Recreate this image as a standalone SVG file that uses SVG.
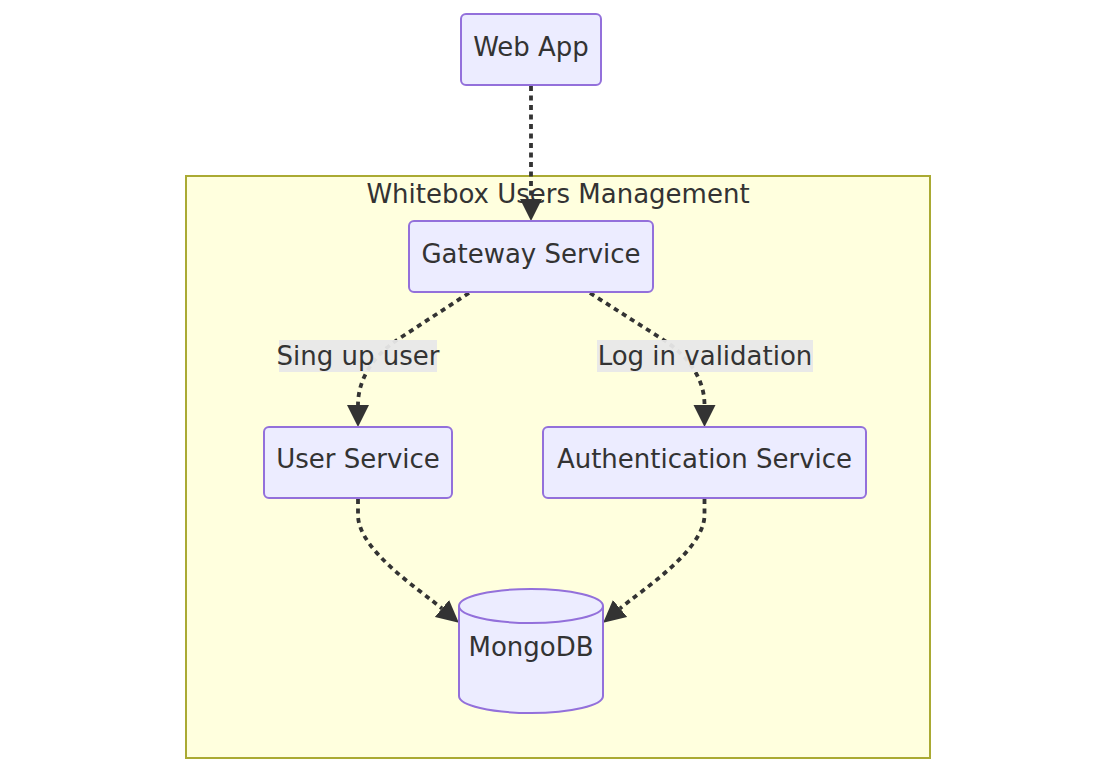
<svg xmlns="http://www.w3.org/2000/svg" width="1116" height="773" viewBox="0 0 1116 773">
<style>
.node rect,.node path{fill:#ECECFF;stroke:#9370DB;stroke-width:2}
.cluster rect{fill:#ffffde;stroke:#aaaa33;stroke-width:2}
text{font-family:"DejaVu Sans",sans-serif;font-size:26px;fill:#333333;text-anchor:middle;dominant-baseline:central}
.edge{fill:none;stroke:#333333;stroke-width:3.8;stroke-dasharray:5 4.5}
.lbl{fill:#e8e8e8;opacity:0.95}
</style>
<defs>
<marker id="arrow" viewBox="0 0 10 10" refX="0" refY="5" markerUnits="userSpaceOnUse" markerWidth="22" markerHeight="23" orient="auto">
<path d="M0,0 L10,5 L0,10 z" fill="#333333"/>
</marker>
</defs>
<rect width="1116" height="773" fill="#ffffff"/>
<g id="cluster-whitebox" class="cluster">
<rect x="186" y="176" width="744" height="582"/>
<text x="558" y="194">Whitebox Users Management</text>
</g>
<g id="connectors">
<path class="edge" d="M531,86 L531,199" marker-end="url(#arrow)"/>
<path class="edge" d="M469,293 L400,338 C372,356 358,380 358,405" marker-end="url(#arrow)"/>
<path class="edge" d="M590,293 L659,337 C690,356 704.5,380 704.5,405" marker-end="url(#arrow)"/>
<path class="edge" d="M358,499 L358,515 C358,550 420,590 442,608.5" marker-end="url(#arrow)"/>
<path class="edge" d="M704.5,499 L704.5,515 C704.5,550 642,590 620,608.5" marker-end="url(#arrow)"/>
<g id="label-signup">
<rect class="lbl" x="279" y="340" width="158" height="32"/>
<text x="358" y="356">Sing up user</text>
</g>
<g id="label-login">
<rect class="lbl" x="597" y="340" width="216" height="32"/>
<text x="705" y="356">Log in validation</text>
</g>
</g>
<g id="node-webapp" class="node">
<rect x="461" y="14" width="140" height="71" rx="5"/>
<text x="531" y="47">Web App</text>
</g>
<g id="node-gateway" class="node">
<rect x="409" y="221" width="244" height="71" rx="5"/>
<text x="531" y="254">Gateway Service</text>
</g>
<g id="node-user" class="node">
<rect x="264" y="427" width="188" height="71" rx="5"/>
<text x="358" y="459">User Service</text>
</g>
<g id="node-auth" class="node">
<rect x="543" y="427" width="323" height="71" rx="5"/>
<text x="704.5" y="459">Authentication Service</text>
</g>
<g id="node-mongodb" class="node">
<path d="M459,606 a72,17 0 0,0 144,0 a72,17 0 0,0 -144,0 l0,90 a72,17 0 0,0 144,0 l0,-90"/>
<text x="531" y="647">MongoDB</text>
</g>
</svg>
